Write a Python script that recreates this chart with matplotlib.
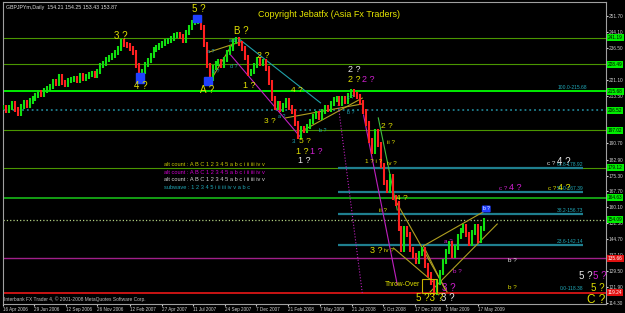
import numpy as np
import matplotlib
matplotlib.use('Agg')
import matplotlib.pyplot as plt
import matplotlib.transforms as mtransforms
from matplotlib.patches import Rectangle

plt.rcParams['font.family'] = ['Liberation Sans', 'DejaVu Sans']

start = np.datetime64('2006-04-16')

# weekly closes GBPJPY
week_close = [
    207.8, 206.5, 208.0, 210.0, 207.0, 205.0, 208.5, 210.5, 209.0, 211.0,
    212.0, 213.5, 215.0, 214.0, 216.0, 217.0, 218.0, 220.5, 219.5, 222.5,
    220.0, 219.0, 221.0, 221.5, 222.0, 221.0, 223.0, 222.0, 222.5, 223.5,
    224.0, 223.0, 225.0, 228.0, 229.0, 231.0, 232.0, 233.0, 234.0, 236.0,
    239.5, 238.0, 237.5, 236.0, 234.0, 228.0, 222.0, 225.0, 228.5, 230.5,
    233.0, 235.5, 236.5, 237.5, 238.5, 239.5, 240.0, 241.0, 242.5, 243.0,
    242.0, 240.0, 244.0, 246.0, 248.5, 249.0, 251.0, 246.0, 238.0, 228.0,
    222.0, 227.0, 229.0, 230.0, 228.0, 231.0, 234.0, 236.0, 239.5, 240.5,
    238.5, 236.0, 232.0, 224.0, 225.0, 228.0, 231.0, 229.0, 230.0, 226.5,
    220.0, 212.0, 208.0, 210.0, 207.0, 209.0, 211.0, 208.0, 206.0, 200.0,
    194.0, 198.0, 197.0, 199.0, 201.0, 203.5, 205.0, 203.0, 206.0, 208.0,
    207.0, 210.0, 211.5, 212.0, 210.0, 212.0, 211.0, 213.5, 215.5, 214.0,
    213.0, 210.5, 206.0, 200.0, 192.0, 187.0, 196.5, 190.0, 180.0, 172.0,
    168.0, 175.0, 165.0, 162.0, 150.0, 140.0, 150.0, 147.0, 140.0, 137.0,
    134.0, 138.0, 140.0, 132.0, 128.0, 124.0, 119.5, 124.0, 129.0, 134.0,
    139.0, 143.0, 137.0, 141.0, 146.0, 149.0, 151.0, 147.0, 143.0, 148.0,
    151.0, 144.0, 150.0, 153.9,
]

tick_dates = ['2006-04-16', '2006-06-29', '2006-09-12', '2006-11-26', '2007-02-12',
              '2007-04-27', '2007-07-11', '2007-09-24', '2007-12-07', '2008-02-21',
              '2008-05-07', '2008-07-21', '2008-10-03', '2008-12-17', '2009-03-02',
              '2009-05-17']
# scale labels that are not hidden behind the level boxes
price_ticks = [251.70, 244.10, 236.50, 221.10, 213.50, 190.70,
               182.90, 175.30, 167.70, 160.10, 152.50, 144.70, 137.10, 129.50, 121.90, 114.30]

# horizontal levels (full width)
levels = [241.19, 228.49, 215.68, 206.52, 197.02, 179.12, 164.63, 154.09, 135.66, 119.24]
level_style = [('#4a9600', '-', 0.8), ('#4a9600', '-', 0.8), ('#00ff00', '-', 1.3),
               ('#1f7f8f', ':', 1.3), ('#4a9600', '-', 0.8), ('#4a9600', '-', 0.8),
               ('#19c819', '-', 1.1), ('#b0d080', ':', 0.9), ('#a0208a', '-', 1.0),
               ('#ff1a1a', '-', 1.1)]
level_box = ['#00ee00'] * 8 + ['#e01010', '#e01010']

# fibonacci retracement lines
fib_prices = [178.92, 167.39, 156.73, 142.14]
fib_names = ['61.8-178.92', '50.0-167.39', '38.2-156.73', '23.6-142.14']
fib_span = (795, 1376)

Y, M, W, T = '#e0e000', '#d020d0', '#e8e8e8', '#20a8b8'
# wave labels: (day, price, text, colour, size)
waves = [
    (464, 255.0, '5 ?', Y, 7), (279, 242.1, '3 ?', Y, 7), (327, 218.2, '4 ?', Y, 7),
    (485, 216.3, 'A ?', Y, 7), (566, 244.5, 'B ?', Y, 7), (585, 218.2, '1 ?', Y, 6.5),
    (618, 233.0, '2 ?', Y, 6.5), (696, 215.8, '4 ?', Y, 6), (634, 201.4, '3 ?', Y, 6),
    (715, 191.4, '5 ?', Y, 6), (689, 191.4, '3', T, 4.5),
    (710, 186.6, '1 ?', Y, 6.5), (743, 186.6, '1 ?', M, 6.5), (715, 182.3, '1 ?', W, 6.5),
    (833, 226.3, '2 ?', W, 6.5), (833, 221.1, '2 ?', Y, 6.5), (866, 221.1, '2 ?', M, 6.5),
    (911, 199.0, '2 ?', Y, 6), (921, 190.9, 'ii ?', Y, 4.5), (878, 181.8, '1 ? i ?', Y, 4.5),
    (923, 180.9, 'iv ?', Y, 4.5),
    (1300, 180.9, 'c ?', W, 4.5), (1330, 181.8, '4 ?', W, 7),
    (1186, 168.9, 'c ?', M, 4.5), (1214, 169.4, '4 ?', M, 6.5),
    (1302, 168.9, 'c ?', Y, 4.5), (1330, 169.4, '4 ?', Y, 6.5),
    (945, 164.1, '4 ?', Y, 6), (902, 158.8, 'ii ?', Y, 4.5),
    (885, 139.2, '3 ?', Y, 6.5), (916, 139.2, 'iv ?', Y, 4.5),
    (1056, 143.5, 'a ?', M, 4.5), (1077, 129.2, 'b ?', M, 4.5),
    (1207, 134.4, 'b ?', W, 4.5), (1207, 121.5, 'b ?', Y, 4.5),
    (1058, 121.5, '3 ?', M, 7),
    (1011, 116.7, '5 ?3 ?', Y, 7), (1056, 116.7, '3 ?', W, 7),
    (1383, 127.2, '5 ?', W, 7), (1416, 127.2, '5 ?', M, 7),
    (1411, 121.5, '5 ?', Y, 7), (1406, 115.7, 'C ?', Y, 8.5),
    (492, 234.5, 'a ?', T, 3.8), (504, 224.9, 'b ?', T, 3.8), (550, 240.2, 'a b c', T, 3.8),
    (547, 227.3, 'd ?', T, 3.8), (824, 212.9, 'c ?', T, 3.8), (824, 205.7, 'b ?', T, 3.8),
    (758, 197.1, 'b ?', T, 3.8), (660, 203.5, 'a ?', T, 3.8),
]

# trend lines: (day0, price0, day1, price1, colour, style)
trends = [
    (490, 220.1, 547, 239.3, '#b0a020', '-'), (490, 234.5, 563, 239.3, '#b0a020', '-'),
    (540, 233.0, 705, 193.8, '#c020c0', '-'), (563, 240.2, 753, 210.1, '#20a0a8', '-'),
    (705, 196.2, 852, 212.4, '#b0a020', '-'), (670, 202.9, 852, 209.6, '#b0a020', '-'),
    (795, 209.1, 852, 119.1, '#c020c0', ':'), (855, 204.3, 935, 123.0, '#c020c0', '-'),
    (890, 202.9, 935, 158.8, '#40c040', '-'), (930, 163.6, 1053, 119.6, '#b0a020', '-'),
    (926, 140.6, 1020, 124.4, '#b0a020', '-'), (997, 141.6, 1139, 157.9, '#b0a020', '-'),
    (1013, 119.6, 1172, 152.1, '#b0a020', '-'), (997, 141.6, 1049, 120.5, '#b0a020', '-'),
]

# blue marker boxes at the main turns: (day0, day1, price0, price1)
blue_boxes = [(450, 469, 249.0, 252.2), (315, 334, 219.6, 224.4), (476, 495, 218.7, 222.5)]

counts = [('alt count : A B C 1 2 3 4 5 a b c i ii iii iv v', '#c8c800'),
          ('alt count : A B C 1 2 3 4 5 a b c i ii iii iv v', '#d000d0'),
          ('alt count : A B C 1 2 3 4 5 a b c i ii iii iv v', '#d8d8d8'),
          ('subwave : 1 2 3 4 5 i ii iii iv v a b c', '#20a8b8')]

fig = plt.figure(figsize=(6.25, 3.13), dpi=100, facecolor='black')
ax = fig.add_axes([3 / 625, 9 / 313, 603 / 625, 302 / 313])
ax.set_facecolor('black')
ax.set_xlim(2.4, 1430)
ax.set_ylim(113.8, 258.4)

for (p, (c, ls, lw)) in zip(levels, level_style):
    ax.axhline(p, color=c, ls=ls, lw=lw, zorder=1)

for p in fib_prices:
    ax.hlines(p, fib_span[0], fib_span[1], color='#1f7f8f', lw=1.6, zorder=1)
for p, n in zip(fib_prices, fib_names):
    ax.text(fib_span[1], p + 0.6, n, color=T, fontsize=3.6, ha='right', va='bottom')
ax.text(fib_span[1] + 10, 216.3, '100.0-215.68', color=T, fontsize=3.6, ha='right', va='bottom')
ax.text(fib_span[1], 119.9, '0.0-118.38', color=T, fontsize=3.6, ha='right', va='bottom')

for d0, p0, d1, p1, c, ls in trends:
    ax.plot([d0, d1], [p0, p1], color=c, ls=ls, lw=0.8, zorder=2)

days = np.arange(len(week_close)) * 7
closes = np.array(week_close)
opens = np.r_[closes[0], closes[:-1]]
up = closes >= opens
ax.vlines(days[up], opens[up] - 1.2, closes[up] + 1.2, color='#10e010', lw=1.5, zorder=3)
ax.vlines(days[~up], closes[~up] - 1.2, opens[~up] + 1.2, color='#ff2020', lw=1.5, zorder=3)

for d0, d1, p0, p1 in blue_boxes:
    ax.add_patch(Rectangle((d0, p0), d1 - d0, p1 - p0, color='#2040ff', zorder=4))
ax.add_patch(Rectangle((994, 118.9), 36, 6.9, fill=False, ec='#c8b400', lw=0.8, zorder=4))

for d, p, s, c, fs in waves:
    ax.text(d, p, s, color=c, fontsize=fs, ha='center', va='center', zorder=5)
ax.text(990, 122.9, 'Throw-Over', color=Y, fontsize=4.8, ha='right', va='center', zorder=5)
ax.text(1146, 159.3, 'b ?', color='white', fontsize=3.5, ha='center', va='center', zorder=5,
        bbox=dict(boxstyle='round,pad=0.2', fc='#2040ff', ec='none'))

for i, (s, c) in enumerate(counts):
    ax.text(381, 180.8 - 3.8 * i, s, color=c, fontsize=4.1, ha='left', va='center')

ax.text(0.005, 0.99, 'GBPJPYm,Daily  154.21 154.25 153.43 153.87', color='#e0e0e0',
        fontsize=3.8, transform=ax.transAxes, ha='left', va='top')
ax.text(0.423, 0.957, 'Copyright Jebatfx (Asia Fx Traders)', color='#e6e600',
        fontsize=6.5, transform=ax.transAxes, ha='left', va='center')
ax.text(0.002, 0.017, 'Interbank FX Trader 4, \u00a9 2001-2008 MetaQuotes Software Corp.',
        color='#c0c0c0', fontsize=3.5, transform=ax.transAxes, ha='left', va='center')

# right price scale
ax.yaxis.tick_right()
ax.set_yticks(price_ticks)
ax.set_yticklabels([f'{v:.2f}' for v in price_ticks])
ax.tick_params(axis='y', colors='#d0d0d0', labelsize=3.4, length=1.5, pad=0.5)
trans = mtransforms.blended_transform_factory(ax.transAxes, ax.transData)
for p, bg in zip(levels, level_box):
    fg = 'black' if bg != '#e01010' else 'white'
    ax.text(1.003, p, f'{p:.2f}', color=fg, fontsize=3.4, transform=trans, ha='left',
            va='center', clip_on=False, zorder=6,
            bbox=dict(boxstyle='square,pad=0.2', fc=bg, ec='none'))

# date scale
tick_days = [(np.datetime64(t) - start).astype(int) for t in tick_dates]
months = ['Jan', 'Feb', 'Mar', 'Apr', 'May', 'Jun', 'Jul', 'Aug', 'Sep', 'Oct', 'Nov', 'Dec']
tick_lbls = [f'{int(t[8:])} {months[int(t[5:7]) - 1]} {t[:4]}' for t in tick_dates]
ax.set_xticks(tick_days)
ax.set_xticklabels(tick_lbls, ha='left')
ax.tick_params(axis='x', colors='#d0d0d0', labelsize=3.3, length=1.5, pad=0.8)

for sp in ax.spines.values():
    sp.set_color('#a0a0a0')
    sp.set_linewidth(0.8)

fig.savefig('out.png', dpi=100, facecolor='black')
